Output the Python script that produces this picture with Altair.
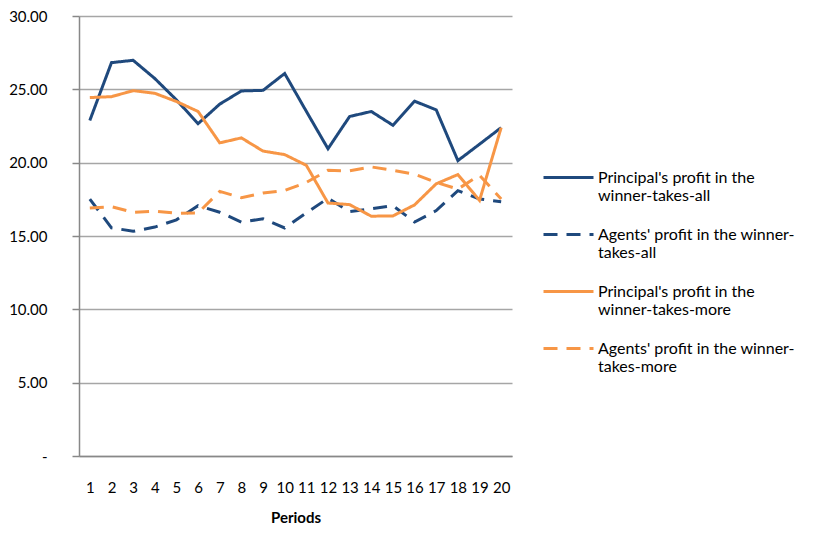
import altair as alt
import pandas as pd

periods = list(range(1, 21))
series_names = [
    "Principal's profit in the|winner-takes-all",
    "Agents' profit in the winner-|takes-all",
    "Principal's profit in the|winner-takes-more",
    "Agents' profit in the winner-|takes-more",
]
principal_wta = [22.88, 26.82, 26.98, 25.74, 24.28, 22.66, 23.99, 24.89, 24.93, 26.08,
                 23.50, 20.95, 23.15, 23.49, 22.55, 24.19, 23.60, 20.14, 21.26, 22.39]
agents_wta = [17.52, 15.56, 15.32, 15.61, 16.10, 17.07, 16.62, 15.95, 16.17, 15.55,
              16.58, 17.57, 16.67, 16.85, 17.07, 15.95, 16.73, 18.09, 17.52, 17.34]
principal_wtm = [24.44, 24.50, 24.91, 24.73, 24.17, 23.49, 21.35, 21.69, 20.79, 20.55,
                 19.82, 17.25, 17.14, 16.35, 16.37, 17.12, 18.56, 19.19, 17.43, 22.39]
agents_wtm = [16.91, 17.00, 16.62, 16.69, 16.55, 16.58, 18.04, 17.61, 17.93, 18.10,
              18.65, 19.48, 19.44, 19.71, 19.48, 19.21, 18.65, 18.20, 19.14, 17.52]
y_ticks = [0, 5, 10, 15, 20, 25, 30]

BLUE = "#1F497D"
ORANGE = "#F79646"

rows = []
for name, vals in zip(series_names, [principal_wta, agents_wta, principal_wtm, agents_wtm]):
    for p, v in zip(periods, vals):
        rows.append({"period": p, "value": v, "series": name})
df = pd.DataFrame(rows)

FONT = "Lato"

legend = alt.Legend(
    title=None,
    orient="none",
    legendX=463,
    legendY=135,
    labelExpr="split(datum.label, '|')",
    labelFont=FONT,
    labelFontSize=16,
    labelColor="#000000",
    labelLimit=400,
    symbolType="stroke",
    symbolSize=2500,
    symbolStrokeWidth=3,
    rowPadding=4,
    labelOffset=3,
)

chart = alt.Chart(df).mark_line(strokeWidth=3).encode(
    x=alt.X(
        "period:O",
        title="Periods",
        axis=alt.Axis(
            labelAngle=0,
            ticks=False,
            labelFont=FONT,
            labelFontSize=15,
            labelColor="#000000",
            labelPadding=24,
            domainColor="#888888",
            domainWidth=1.5,
            titleFont=FONT,
            titleFontSize=15,
            titleFontWeight="bold",
            titleColor="#000000",
            titlePadding=15,
            grid=False,
        ),
    ),
    y=alt.Y(
        "value:Q",
        title=None,
        scale=alt.Scale(domain=[0, 30], nice=False),
        axis=alt.Axis(
            values=y_ticks,
            labelExpr="datum.value == 0 ? '-\u00a0\u00a0' : format(datum.value, '.2f')",
            labelFont=FONT,
            labelFontSize=15,
            labelColor="#000000",
            labelPadding=25,
            tickSize=7,
            tickColor="#888888",
            tickWidth=1.5,
            domainColor="#888888",
            domainWidth=1.5,
            gridColor="#A6A6A6",
            gridWidth=1.5,
        ),
    ),
    color=alt.Color(
        "series:N",
        scale=alt.Scale(domain=series_names, range=[BLUE, BLUE, ORANGE, ORANGE]),
        legend=legend,
    ),
    strokeDash=alt.StrokeDash(
        "series:N",
        scale=alt.Scale(domain=series_names, range=[[1, 0], [14, 9], [1, 0], [14, 9]]),
        legend=legend,
    ),
).properties(
    width=433,
    height=440,
    padding={"left": 71, "top": 8, "right": 294, "bottom": 70},
    autosize=alt.AutoSizeParams(type="none"),
    background="#FFFFFF",
).configure_view(stroke=None)

chart.save("out.html", embed_options={"renderer": "svg", "actions": False})
